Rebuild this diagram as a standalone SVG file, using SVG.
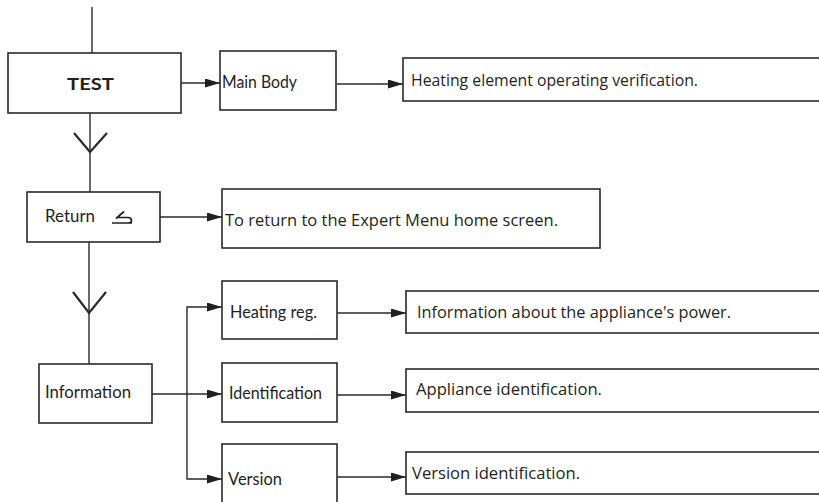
<svg xmlns="http://www.w3.org/2000/svg" width="819" height="502" viewBox="0 0 819 502">
<style>
.box{fill:#fff;stroke:#2a2a2a;stroke-width:1.6}
.ln{fill:none;stroke:#2a2a2a;stroke-width:1.4}
.v{fill:none;stroke:#2a2a2a;stroke-width:2.2}
.arr{marker-end:url(#ah)}
.gl{font-family:Lato,"Liberation Sans",sans-serif;font-size:17.5px;fill:#231f20}
.my{font-family:"Open Sans","Liberation Sans",sans-serif;font-size:16px;fill:#231f20}
.b{font-weight:bold}
</style>
<defs>
<marker id="ah" markerUnits="userSpaceOnUse" markerWidth="15" markerHeight="9" refX="15" refY="4.5" orient="auto">
<path d="M0,0 L15,4.5 L0,9 z" fill="#231f20"/>
</marker>
</defs>
<g id="connectors">
<line class="ln" x1="92" y1="7" x2="92" y2="53"/>
<line class="ln arr" x1="181" y1="83" x2="220" y2="83"/>
<line class="ln arr" x1="337" y1="84" x2="403" y2="84"/>
<line class="ln" x1="90" y1="113" x2="90" y2="192"/>
<polyline class="v" points="74,133 90,152 107,133"/>
<line class="ln arr" x1="160" y1="217" x2="222" y2="217"/>
<line class="ln" x1="89" y1="242" x2="89" y2="364"/>
<polyline class="v" points="73,292 89,313 106,292"/>
<line class="ln arr" x1="152" y1="394" x2="222" y2="394"/>
<polyline class="ln arr" points="187,394 187,307 222,307"/>
<polyline class="ln arr" points="187,394 187,479 222,479"/>
<line class="ln arr" x1="337" y1="313" x2="406" y2="313"/>
<line class="ln arr" x1="337" y1="395" x2="406" y2="395"/>
<line class="ln arr" x1="337" y1="477" x2="406" y2="477"/>
</g>
<g id="test">
<rect class="box" x="8" y="53" width="173" height="60"/>
<text class="gl b" x="67" y="90" textLength="47" lengthAdjust="spacingAndGlyphs">TEST</text>
</g>
<g id="main-body">
<rect class="box" x="220" y="51" width="116" height="59"/>
<text class="gl" x="222" y="88" textLength="75" lengthAdjust="spacingAndGlyphs">Main Body</text>
</g>
<g id="heating-element">
<rect class="box" x="403" y="58" width="430" height="43"/>
<text class="my" x="411" y="86" textLength="287" lengthAdjust="spacingAndGlyphs">Heating element operating verification.</text>
</g>
<g id="return">
<rect class="box" x="27" y="192" width="133" height="50"/>
<text class="gl" x="45" y="222" textLength="50" lengthAdjust="spacingAndGlyphs">Return</text>
<path d="M112 223 H132 M116 218.5 L124 211.5 M116.5 217.5 H128 Q131.5 217.5 131.5 220.5 Q131.5 223 128.5 223" fill="none" stroke="#231f20" stroke-width="1.7"/>
</g>
<g id="expert">
<rect class="box" x="222" y="189" width="378" height="59"/>
<text class="my" x="225" y="226" textLength="333" lengthAdjust="spacingAndGlyphs">To return to the Expert Menu home screen.</text>
</g>
<g id="information">
<rect class="box" x="39" y="364" width="113" height="59"/>
<text class="gl" x="45" y="398" textLength="86" lengthAdjust="spacingAndGlyphs">Information</text>
</g>
<g id="heating-reg">
<rect class="box" x="222" y="281" width="115" height="58"/>
<text class="gl" x="230" y="318" textLength="87" lengthAdjust="spacingAndGlyphs">Heating reg.</text>
</g>
<g id="identification">
<rect class="box" x="222" y="363" width="115" height="59"/>
<text class="gl" x="229" y="399" textLength="93" lengthAdjust="spacingAndGlyphs">Identification</text>
</g>
<g id="version">
<rect class="box" x="222" y="444" width="115" height="70"/>
<text class="gl" x="228" y="485" textLength="54" lengthAdjust="spacingAndGlyphs">Version</text>
</g>
<g id="power-info">
<rect class="box" x="406" y="291" width="430" height="42"/>
<text class="my" x="417" y="318" textLength="314" lengthAdjust="spacingAndGlyphs">Information about the appliance's power.</text>
</g>
<g id="appliance-id">
<rect class="box" x="406" y="369" width="430" height="43"/>
<text class="my" x="416" y="395" textLength="186" lengthAdjust="spacingAndGlyphs">Appliance identification.</text>
</g>
<g id="version-id">
<rect class="box" x="406" y="452" width="430" height="42"/>
<text class="my" x="412" y="479" textLength="168" lengthAdjust="spacingAndGlyphs">Version identification.</text>
</g>
</svg>
